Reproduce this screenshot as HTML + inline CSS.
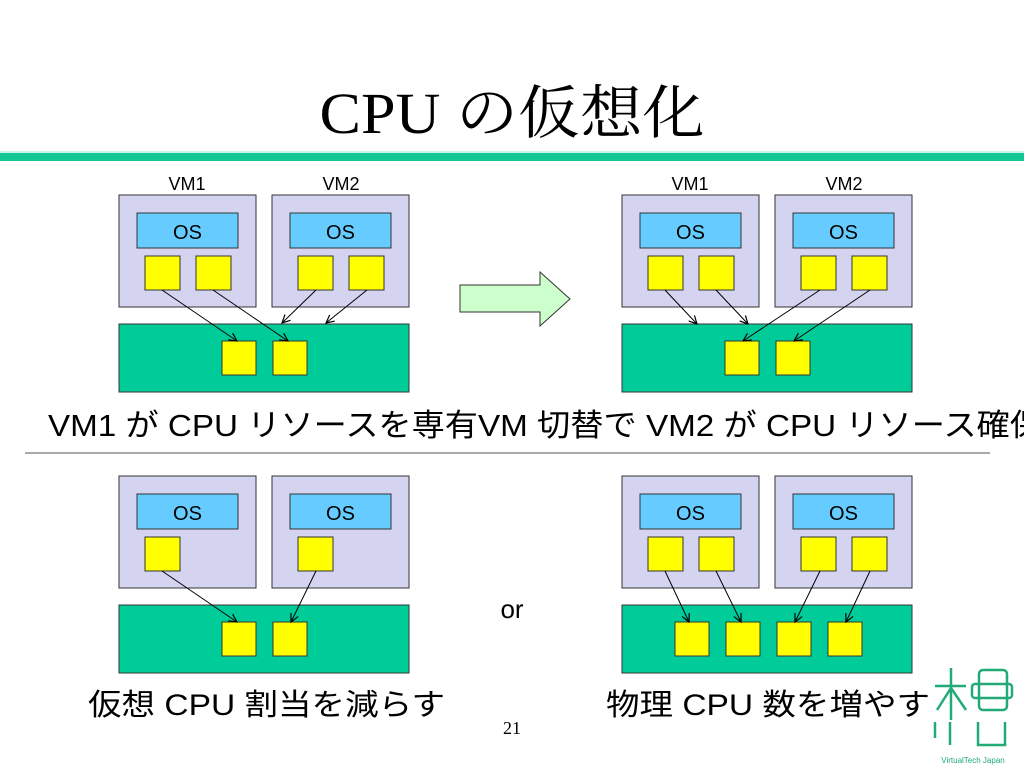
<!DOCTYPE html>
<html><head><meta charset="utf-8"><style>
body{margin:0;background:#fff}
svg{display:block}
text{font-family:"Liberation Sans","Noto Sans CJK JP",sans-serif}
</style></head><body>
<svg width="1024" height="768" viewBox="0 0 1024 768">
<defs>
<marker id="a" markerWidth="10" markerHeight="10" refX="9" refY="5" orient="auto" markerUnits="userSpaceOnUse">
<path d="M1,1 L9,5 L1,9" fill="none" stroke="#000" stroke-width="1.2"/></marker>
<g id="vm">
<rect x="0" y="0" width="137" height="112" fill="#d4d4f0" stroke="#333" stroke-width="1"/>
<rect x="18" y="18" width="101" height="35" fill="#66ccff" stroke="#333" stroke-width="1"/>
<text x="68.5" y="44" font-size="20" text-anchor="middle" fill="#000" stroke="none">OS</text>
</g>
</defs>
<text x="512" y="133" font-size="58" text-anchor="middle" textLength="385" lengthAdjust="spacingAndGlyphs" style="font-family:'Liberation Serif','Noto Serif CJK SC',serif">CPU の仮想化</text>
<rect x="0" y="153" width="1024" height="8" fill="#12c995"/>
<rect x="0" y="151" width="1024" height="2" fill="#c8f3e6"/>

<g font-size="18">
<text x="187" y="190" text-anchor="middle">VM1</text><text x="341" y="190" text-anchor="middle">VM2</text>
<text x="690" y="190" text-anchor="middle">VM1</text><text x="844" y="190" text-anchor="middle">VM2</text>
</g>

<use href="#vm" x="119" y="195"/><use href="#vm" x="272" y="195"/>
<use href="#vm" x="622" y="195"/><use href="#vm" x="775" y="195"/>
<use href="#vm" x="119" y="476"/><use href="#vm" x="272" y="476"/>
<use href="#vm" x="622" y="476"/><use href="#vm" x="775" y="476"/>

<g stroke="#333" fill="#ffff00" stroke-width="1">
<rect x="145" y="256" width="35" height="34"/><rect x="196" y="256" width="35" height="34"/>
<rect x="298" y="256" width="35" height="34"/><rect x="349" y="256" width="35" height="34"/>
<rect x="119" y="324" width="290" height="68" fill="#00cc99"/>
<rect x="222" y="341" width="34" height="34"/><rect x="273" y="341" width="34" height="34"/>
<rect x="648" y="256" width="35" height="34"/><rect x="699" y="256" width="35" height="34"/>
<rect x="801" y="256" width="35" height="34"/><rect x="852" y="256" width="35" height="34"/>
<rect x="622" y="324" width="290" height="68" fill="#00cc99"/>
<rect x="725" y="341" width="34" height="34"/><rect x="776" y="341" width="34" height="34"/>
<rect x="145" y="537" width="35" height="34"/><rect x="298" y="537" width="35" height="34"/>
<rect x="119" y="605" width="290" height="68" fill="#00cc99"/>
<rect x="222" y="622" width="34" height="34"/><rect x="273" y="622" width="34" height="34"/>
<rect x="648" y="537" width="35" height="34"/><rect x="699" y="537" width="35" height="34"/>
<rect x="801" y="537" width="35" height="34"/><rect x="852" y="537" width="35" height="34"/>
<rect x="622" y="605" width="290" height="68" fill="#00cc99"/>
<rect x="675" y="622" width="34" height="34"/><rect x="726" y="622" width="34" height="34"/>
<rect x="777" y="622" width="34" height="34"/><rect x="828" y="622" width="34" height="34"/>
</g>

<g stroke="#000" stroke-width="1" marker-end="url(#a)">
<line x1="162" y1="290" x2="237" y2="341"/><line x1="213" y1="290" x2="288" y2="341"/>
<line x1="316" y1="290" x2="282" y2="323"/><line x1="367" y1="290" x2="326" y2="323"/>
<line x1="665" y1="290" x2="697" y2="324"/><line x1="716" y1="290" x2="748" y2="324"/>
<line x1="820" y1="290" x2="743" y2="341"/><line x1="870" y1="290" x2="794" y2="341"/>
<line x1="162" y1="571" x2="237" y2="622"/><line x1="316" y1="571" x2="291" y2="622"/>
<line x1="665" y1="571" x2="689" y2="622"/><line x1="716" y1="571" x2="741" y2="622"/>
<line x1="820" y1="571" x2="795" y2="622"/><line x1="870" y1="571" x2="846" y2="622"/>
</g>

<path d="M460,285 L540,285 L540,272 L570,299 L540,326 L540,312 L460,312 Z" fill="#ccffcc" stroke="#333" stroke-width="1"/>

<text x="48" y="436" font-size="31" textLength="430" lengthAdjust="spacingAndGlyphs">VM1 が CPU リソースを専有</text>
<text x="478" y="436" font-size="31" textLength="565" lengthAdjust="spacingAndGlyphs">VM 切替で VM2 が CPU リソース確保</text>
<line x1="25" y1="453" x2="990" y2="453" stroke="#555" stroke-width="1"/>
<text x="512" y="618" font-size="26" text-anchor="middle">or</text>
<text x="88" y="715" font-size="30" textLength="357" lengthAdjust="spacingAndGlyphs">仮想 CPU 割当を減らす</text>
<text x="606" y="715" font-size="30" textLength="324" lengthAdjust="spacingAndGlyphs">物理 CPU 数を増やす</text>
<text x="512" y="734" font-size="18" text-anchor="middle" style="font-family:'Liberation Serif',serif">21</text>

<g stroke="#22aa77" stroke-width="2.5" fill="none">
<line x1="951" y1="668" x2="951" y2="720"/><line x1="935" y1="686" x2="966" y2="686"/>
<line x1="951" y1="688" x2="937" y2="710"/><line x1="951" y1="688" x2="966" y2="710"/>
<rect x="979" y="670" width="28" height="40" rx="4"/><rect x="972" y="684" width="40" height="14" rx="3"/>
<line x1="935" y1="722" x2="935" y2="738"/><line x1="950" y1="722" x2="950" y2="745"/>
<path d="M978,722 L978,745 L1005,745 L1005,722"/>
</g>
<text x="973" y="763" font-size="8" text-anchor="middle" fill="#22aa77">VirtualTech Japan</text>
</svg>
</body></html>
